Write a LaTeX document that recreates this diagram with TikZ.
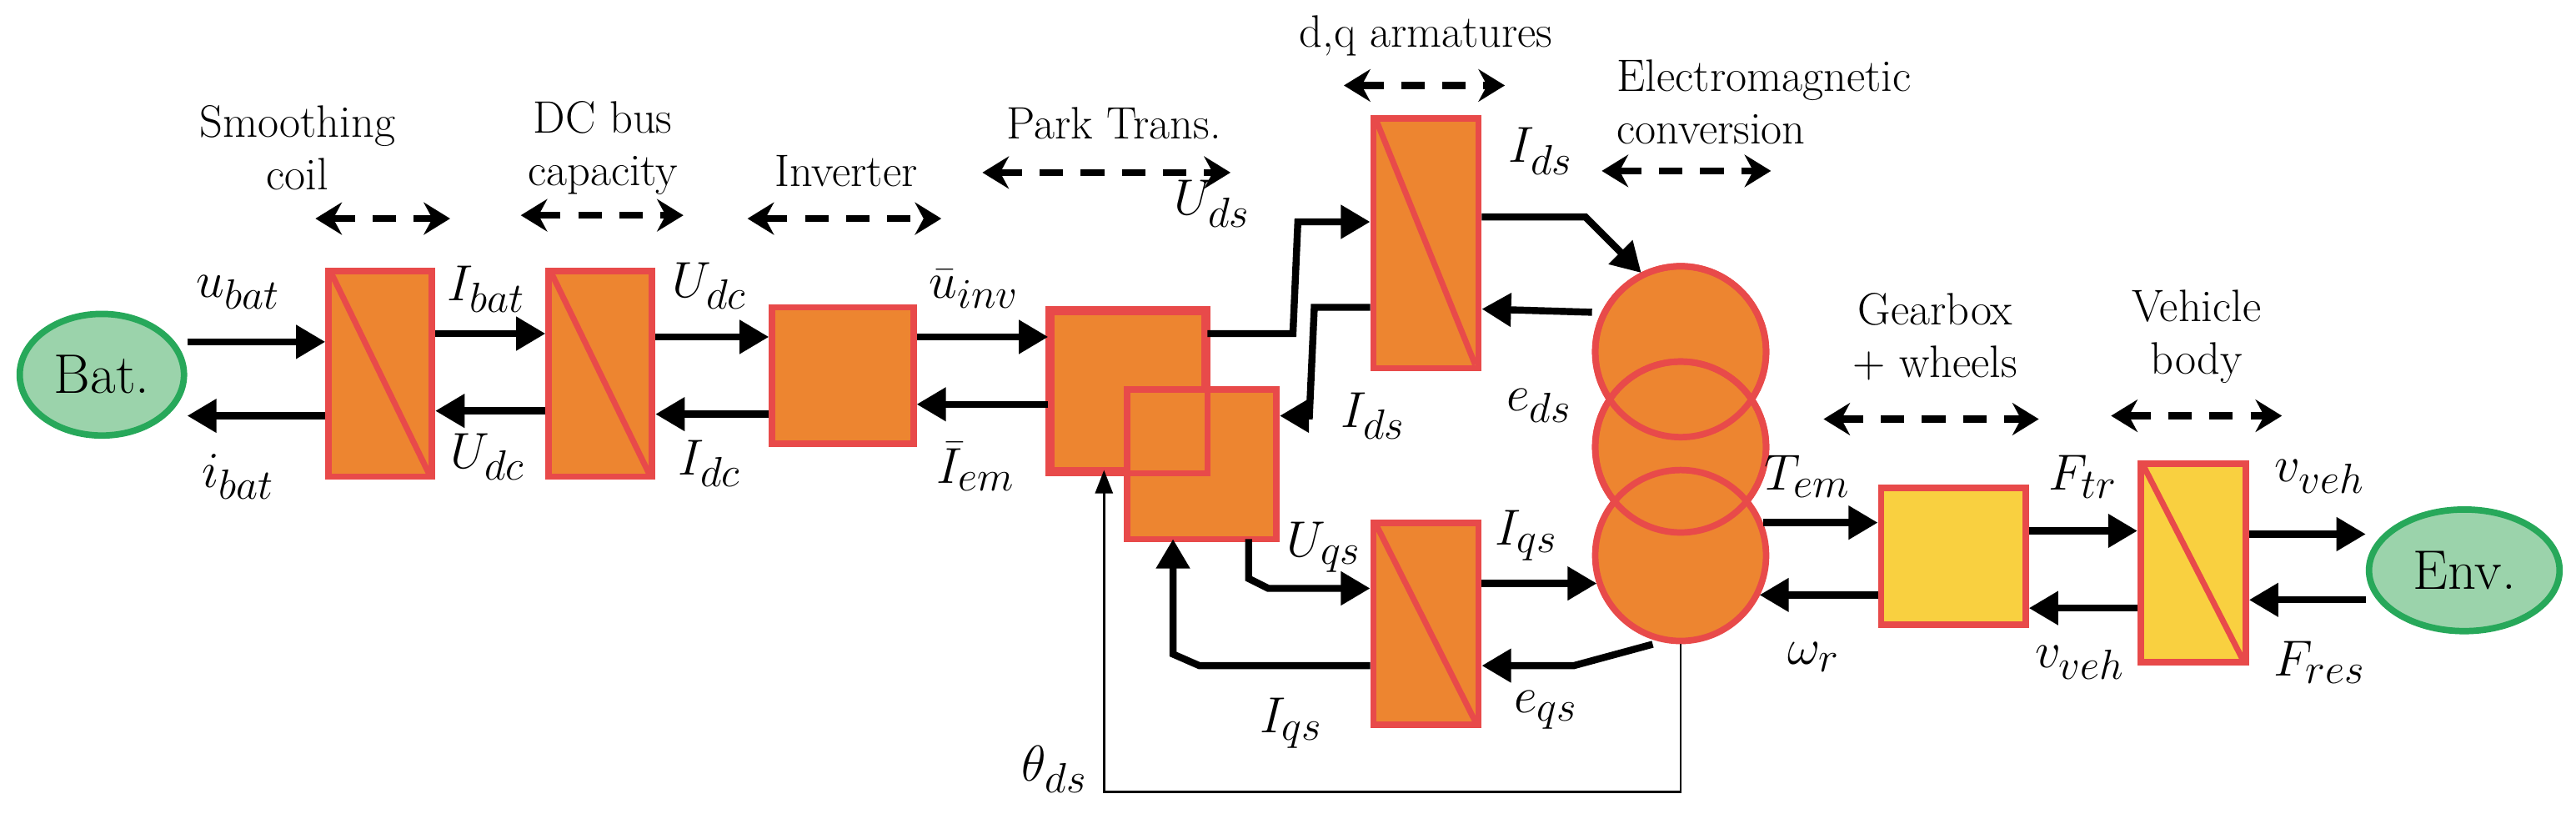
\documentclass[tikz,border=0pt]{standalone}
\usetikzlibrary{arrows.meta,shapes.geometric}
\definecolor{bred}{HTML}{E84A4A}
\definecolor{borange}{HTML}{ED8530}
\definecolor{byellow}{HTML}{F9D040}
\definecolor{ggreen}{HTML}{27A85A}
\definecolor{lgreen}{HTML}{9BD3AB}
\newdimen\uu \uu=0.01971cm
\begin{document}
\begin{tikzpicture}[x=0.01971cm,y=-0.01971cm,
  box/.style={draw=bred,fill=borange,line width=2.2pt,inner sep=0pt},
  ybox/.style={draw=bred,fill=byellow,line width=2.2pt,inner sep=0pt},
  src/.style={ellipse,draw=ggreen,fill=lgreen,line width=2.2pt,inner sep=0pt},
  diag/.style={draw=bred,line width=2pt},
  flow/.style={line width=2.4pt,-{Triangle[length=10pt,width=11pt]}},
  tharr/.style={line width=0.8pt,-{Triangle[length=8pt,width=6pt]}},
  dflow/.style={line width=2.4pt,dash pattern=on 8pt off 6pt,{Stealth[length=9pt,width=11pt]}-{Stealth[length=9pt,width=11pt]}},
  lab/.style={font=\fontsize{19}{21}\selectfont,inner sep=1pt},
  txt/.style={font=\fontsize{15.5}{18}\selectfont,align=center}]
\useasboundingbox (0,0) rectangle (1568,504);
% sources
\node[src,minimum width=100\uu,minimum height=74\uu] (bat) at (62,228) {\fontsize{19}{21}\selectfont Bat.};
\node[src,minimum width=116\uu,minimum height=74\uu] (env) at (1500,347) {\fontsize{19}{21}\selectfont Env.};
% boxes
\node[box,minimum width=63\uu,minimum height=125\uu] (coil) at (231.5,227.5) {};
\node[box,minimum width=63\uu,minimum height=125\uu] (dcb) at (365.5,227.5) {};
\node[box,minimum width=86\uu,minimum height=83\uu] (inv) at (513,228.5) {};
\node[box,minimum width=93\uu,minimum height=96\uu] (pk1) at (686.5,238) {};
\node[box,minimum width=91\uu,minimum height=91\uu] (pk2) at (731.5,282.5) {};
\draw[draw=bred,line width=2.2pt] (pk1.north west) rectangle (pk1.south east);
\node[box,minimum width=64\uu,minimum height=152\uu] (dar) at (868,148) {};
\node[box,minimum width=64\uu,minimum height=123\uu] (qar) at (868,379.5) {};
\node[ybox,minimum width=88\uu,minimum height=83\uu] (gear) at (1189,338.5) {};
\node[ybox,minimum width=64\uu,minimum height=121\uu] (veh) at (1335,342.5) {};
\foreach \b in {coil,dcb,dar,qar,veh}
  \draw[diag] ([shift={(4,4)}]\b.north west) -- ([shift={(-4,-4)}]\b.south east);
% electromechanical conversion circles
\node[circle,draw=bred,fill=borange,line width=2.2pt,minimum size=104\uu] (c1) at (1023,214) {};
\node[circle,draw=bred,fill=borange,line width=2.2pt,minimum size=104\uu] (c2) at (1023,272) {};
\node[circle,draw=bred,fill=borange,line width=2.2pt,minimum size=104\uu] (c3) at (1023,338) {};
\draw[bred,line width=2.2pt] (c1) circle[radius=52];
\draw[bred,line width=2.2pt] (c2) circle[radius=52];
% main flows
\draw[flow] (bat.east |- 0,208) -- (coil.west |- 0,208);
\draw[flow] (coil.west |- 0,253) -- (bat.east |- 0,253);
\draw[flow] (coil.east |- 0,203) -- (dcb.west |- 0,203);
\draw[flow] (dcb.west |- 0,250) -- (coil.east |- 0,250);
\draw[flow] (dcb.east |- 0,205) -- (inv.west |- 0,205);
\draw[flow] (inv.west |- 0,252) -- (dcb.east |- 0,252);
\draw[flow] (inv.east |- 0,205) -- (pk1.west |- 0,205);
\draw[flow] (pk1.west |- 0,246) -- (inv.east |- 0,246);
\draw[flow] (pk1.east |- 0,203) -- (787,203) -- (790,135) -- (dar.west |- 0,135);
\draw[flow] (dar.west |- 0,187) -- (800,187) -- (797,253) -- (pk2.east |- 0,253);
\draw[flow] (dar.east |- 0,132) -- (965,132) -- (999,166);
\draw[flow] (c1.west |- 0,190) -- (dar.east |- 0,188);
\draw[flow] (760,328) -- (760,352) -- (772,358) -- (qar.west |- 0,358);
\draw[flow] (qar.west |- 0,405) -- (730,405) -- (714,398) -- (714,328);
\draw[flow] (qar.east |- 0,355) -- (972,355);
\draw[flow] (1006,392) -- (958,405) -- (qar.east |- 0,405);
\draw[tharr] (c3.south) -- (1023,482) -- (672,482) -- (672,286);
\draw[flow] (1073,318) -- (gear.west |- 0,318);
\draw[flow] (gear.west |- 0,362) -- (1071,362);
\draw[flow] (gear.east |- 0,323) -- (veh.west |- 0,323);
\draw[flow] (veh.west |- 0,370) -- (gear.east |- 0,370);
\draw[flow] (veh.east |- 0,325) -- (env.west |- 0,325);
\draw[flow] (env.west |- 0,365) -- (veh.east |- 0,365);
% labels
\node[lab] (l1) at (145,178) {$u_{bat}$};
\node[lab] (l2) at (145,290) {$i_{bat}$};
\node[lab] (l3) at (296,176) {$I_{bat}$};
\node[lab] (l4) at (297,278) {$U_{dc}$};
\node[lab] (l5) at (432,174) {$U_{dc}$};
\node[lab] (l6) at (432,282) {$I_{dc}$};
\node[lab] (l7) at (593,176) {$\bar{u}_{inv}$};
\node[lab] (l8) at (594,284) {$\bar{I}_{em}$};
\node[lab] (l9) at (738,124) {$U_{ds}$};
\node[lab] (l10) at (836,253) {$I_{ds}$};
\node[lab] (l11) at (938,92) {$I_{ds}$};
\node[lab] (l12) at (937,247) {$e_{ds}$};
\node[lab] (l13) at (806,333) {$U_{qs}$};
\node[lab] (l14) at (929,326) {$I_{qs}$};
\node[lab] (l15) at (786,440) {$I_{qs}$};
\node[lab] (l16) at (941,432) {$e_{qs}$};
\node[lab] (l17) at (642,468) {$\theta_{ds}$};
\node[lab] (l18) at (1100,290) {$T_{em}$};
\node[lab] (l19) at (1104,400) {$\omega_{r}$};
\node[lab] (l20) at (1268,290) {$F_{tr}$};
\node[lab] (l21) at (1266,403) {$v_{veh}$};
\node[lab] (l22) at (1412,290) {$v_{veh}$};
\node[lab] (l23) at (1412,403) {$F_{res}$};
% titles
\node[txt] (t1) at (181,90) {Smoothing\\coil};
\node[txt] (t2) at (367,90) {DC bus\\capacity};
\node[txt] (t3) at (515,104) {Inverter};
\node[txt] (t4) at (678,75) {Park Trans.};
\node[txt] (t5) at (868,22) {d,q armatures};
\node[txt,align=left,anchor=west] (t6) at (978,62) {Electromagnetic\\conversion};
\node[txt] (t7) at (1178,205) {Gearbox\\+ wheels};
\node[txt] (t8) at (1337,205) {Vehicle\\body};
\coordinate (a1l) at (192,133); \coordinate (a1r) at (274,133);
\coordinate (a2l) at (317,131); \coordinate (a2r) at (416,131);
\coordinate (a3l) at (455,133); \coordinate (a3r) at (573,133);
\coordinate (a4l) at (598,105); \coordinate (a4r) at (749,105);
\coordinate (a5l) at (818,52); \coordinate (a5r) at (916,52);
\coordinate (a6l) at (975,104); \coordinate (a6r) at (1078,104);
\coordinate (a7l) at (1110,255); \coordinate (a7r) at (1241,255);
\coordinate (a8l) at (1285,253); \coordinate (a8r) at (1389,253);
\foreach \i in {1,...,8} \draw[dflow] (a\i l) -- (a\i r);
\end{tikzpicture}
\end{document}
